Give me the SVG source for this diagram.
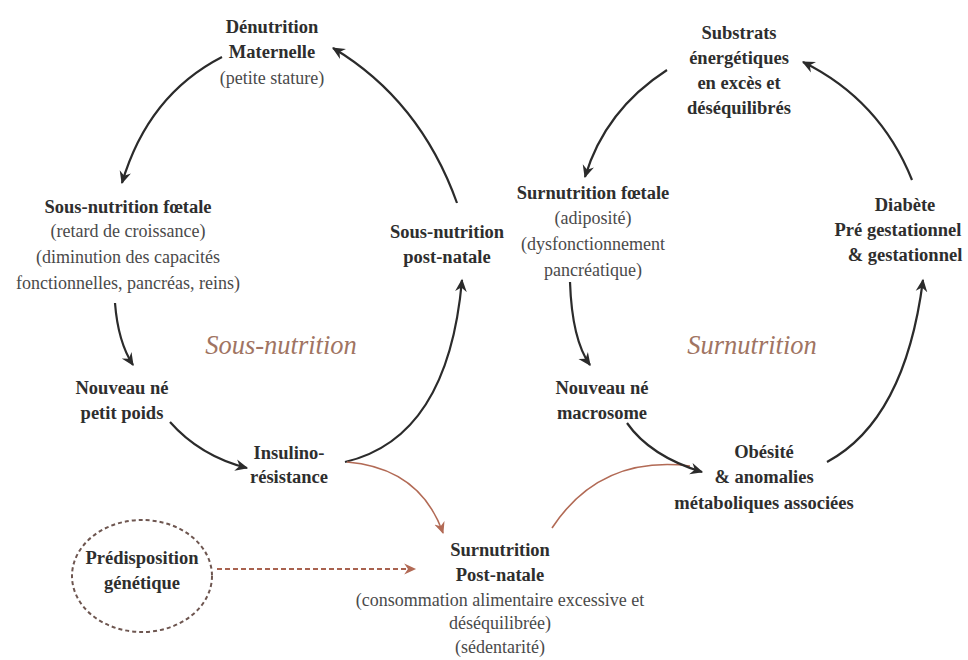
<svg xmlns="http://www.w3.org/2000/svg" width="968" height="660" viewBox="0 0 968 660">
<style>
text{font-family:"Liberation Serif","Times New Roman",serif;text-anchor:middle;fill:#2e2e2e}
.b{font-weight:bold;font-size:18.5px}
.r{font-size:18px;fill:#4a4a4a}
.it{font-style:italic;font-size:26.5px;fill:#a07462}
.k{fill:none;stroke:#2b2b2b;stroke-width:2.2}
.br{fill:none;stroke:#b26a55;stroke-width:1.6}
</style>
<defs>
<marker id="ak" viewBox="0 0 12 12" refX="10" refY="6" markerWidth="14" markerHeight="14" markerUnits="userSpaceOnUse" orient="auto">
<path d="M0,1 L11,6 L0,11 L3.5,6 z" fill="#2b2b2b"/>
</marker>
<marker id="abr" viewBox="0 0 12 12" refX="10" refY="6" markerWidth="13" markerHeight="13" markerUnits="userSpaceOnUse" orient="auto">
<path d="M0,1 L11,6 L0,11 L3.5,6 z" fill="#b26a55"/>
</marker>
</defs>
<rect width="968" height="660" fill="#ffffff"/>
<g id="connectors">
<path class="k" d="M222,57 Q148,95 122,183" marker-end="url(#ak)"/>
<path class="k" d="M457,203 Q420,100 333,48" marker-end="url(#ak)"/>
<path class="k" d="M115,303 Q118,342 133,365" marker-end="url(#ak)"/>
<path class="k" d="M170,422 Q200,456 247,468" marker-end="url(#ak)"/>
<path class="k" d="M345,462 Q448,438 462,280" marker-end="url(#ak)"/>
<path class="br" d="M347,462 Q420,468 443,533" marker-end="url(#abr)"/>
<path class="br" d="M552,528 Q600,455 690,466"/>
<path class="k" d="M627,423 Q650,456 702,472" marker-end="url(#ak)"/>
<path class="k" d="M827,462 Q905,420 923,280" marker-end="url(#ak)"/>
<path class="k" d="M912,180 Q880,100 803,62" marker-end="url(#ak)"/>
<path class="k" d="M667,70 Q605,110 585,177" marker-end="url(#ak)"/>
<path class="k" d="M570,282 Q572,340 590,365" marker-end="url(#ak)"/>
<path fill="none" stroke="#a8624f" stroke-width="1.8" stroke-dasharray="5,3" d="M217,569 L415,569" marker-end="url(#abr)"/>
</g>
<g id="denutrition-maternelle">
<text class="b" x="272" y="33">Dénutrition</text>
<text class="b" x="272" y="58">Maternelle</text>
<text class="r" x="272" y="84">(petite stature)</text>
</g>
<g id="sous-nutrition-foetale">
<text class="b" x="128" y="213">Sous-nutrition fœtale</text>
<text class="r" x="128" y="237">(retard de croissance)</text>
<text class="r" x="128" y="263">(diminution des capacités</text>
<text class="r" x="128" y="289">fonctionnelles, pancréas, reins)</text>
</g>
<g id="sous-nutrition-post-natale">
<text class="b" x="447" y="238">Sous-nutrition</text>
<text class="b" x="447" y="263">post-natale</text>
</g>
<g id="nouveau-ne-petit-poids">
<text class="b" x="122" y="394">Nouveau né</text>
<text class="b" x="122" y="419">petit poids</text>
</g>
<g id="insulino-resistance">
<text class="b" x="289" y="459">Insulino-</text>
<text class="b" x="289" y="483">résistance</text>
</g>
<g id="label-sous-nutrition">
<text class="it" x="281" y="354">Sous-nutrition</text>
</g>
<g id="predisposition-genetique">
<ellipse cx="142" cy="576" rx="70" ry="56" fill="none" stroke="#6e5650" stroke-width="2" stroke-dasharray="4,3"/>
<text class="b" x="142" y="564">Prédisposition</text>
<text class="b" x="142" y="589">génétique</text>
</g>
<g id="surnutrition-post-natale">
<text class="b" x="500" y="556">Surnutrition</text>
<text class="b" x="500" y="581">Post-natale</text>
<text class="r" x="500" y="606">(consommation alimentaire excessive et</text>
<text class="r" x="500" y="629">déséquilibrée)</text>
<text class="r" x="500" y="653">(sédentarité)</text>
</g>
<g id="substrats">
<text class="b" x="739" y="39">Substrats</text>
<text class="b" x="739" y="64">énergétiques</text>
<text class="b" x="739" y="89">en excès et</text>
<text class="b" x="739" y="114">déséquilibrés</text>
</g>
<g id="surnutrition-foetale">
<text class="b" x="593" y="199">Surnutrition fœtale</text>
<text class="r" x="593" y="224">(adiposité)</text>
<text class="r" x="593" y="250">(dysfonctionnement</text>
<text class="r" x="593" y="276">pancréatique)</text>
</g>
<g id="diabete">
<text class="b" x="905" y="211">Diabète</text>
<text class="b" x="898" y="236">Pré gestationnel</text>
<text class="b" x="905" y="261">&amp; gestationnel</text>
</g>
<g id="nouveau-ne-macrosome">
<text class="b" x="602" y="394">Nouveau né</text>
<text class="b" x="602" y="419">macrosome</text>
</g>
<g id="obesite">
<text class="b" x="764" y="458">Obésité</text>
<text class="b" x="764" y="483">&amp; anomalies</text>
<text class="b" x="764" y="509">métaboliques associées</text>
</g>
<g id="label-surnutrition">
<text class="it" x="752" y="354">Surnutrition</text>
</g>
</svg>
